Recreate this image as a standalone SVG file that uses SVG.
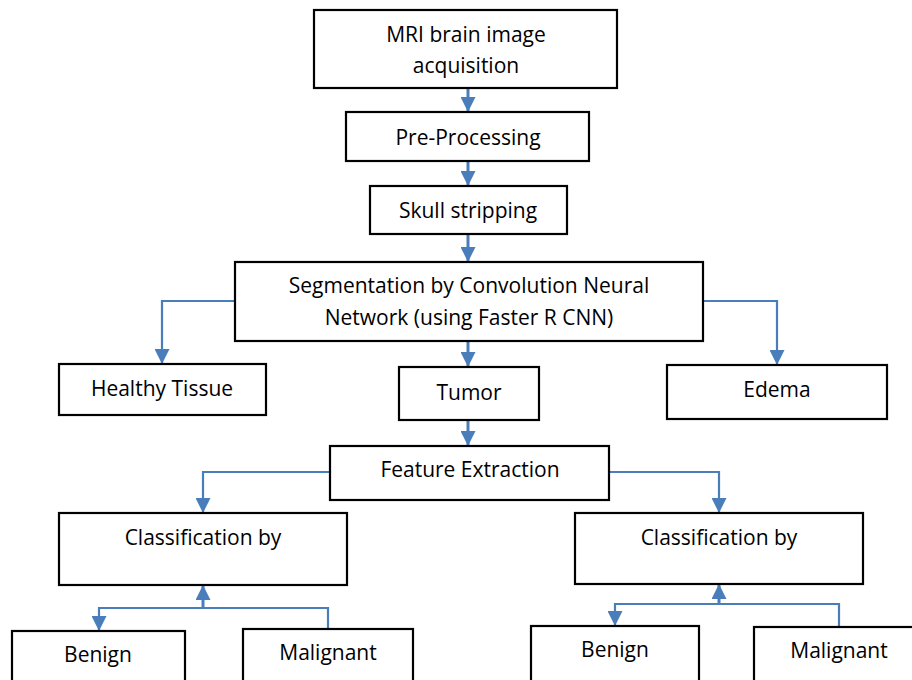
<svg xmlns="http://www.w3.org/2000/svg" width="912" height="680" viewBox="0 0 912 680">
<defs>
<style>
.box{fill:#fff;stroke:#000;stroke-width:2.2}
.t{font-family:"Open Sans","Liberation Sans",sans-serif;font-size:21px;fill:#000;text-anchor:middle}
.c{fill:none;stroke:#4A7EBB;stroke-width:2.2;marker-end:url(#ah)}
.cn{fill:none;stroke:#4A7EBB;stroke-width:2.2}
.s{fill:none;stroke:#4A7EBB;stroke-width:3;marker-end:url(#ah)}
</style>
<marker id="ah" markerUnits="userSpaceOnUse" viewBox="0 0 14 14" refX="14" refY="7" markerWidth="15" markerHeight="15" orient="auto">
<path d="M0,0 L14,7 L0,14 z" fill="#4A7EBB"/>
</marker>
</defs>
<rect width="912" height="680" fill="#fff"/>
<g id="connectors">
<path class="s" d="M468,88 V112"/>
<path class="s" d="M468,161 V186"/>
<path class="s" d="M468,234 V262"/>
<path class="c" d="M235,301 H162 V364"/>
<path class="s" d="M468,341 V367"/>
<path class="c" d="M703,301 H777 V365"/>
<path class="s" d="M468,420 V446"/>
<path class="c" d="M330,472 H203 V513"/>
<path class="c" d="M609,472 H719 V513"/>
<path class="s" d="M203,608 V585"/>
<path class="c" d="M328,629 V608 H99 V631"/>
<path class="s" d="M719,604 V584"/>
<path class="c" d="M839,627 V604 H615 V626"/>
</g>
<g id="mri"><rect class="box" x="314" y="10" width="303" height="78"/><text class="t" x="466" y="42">MRI brain image</text><text class="t" x="466" y="73">acquisition</text></g>
<g id="pre"><rect class="box" x="346" y="112" width="243" height="49"/><text class="t" x="468" y="145">Pre-Processing</text></g>
<g id="skull"><rect class="box" x="370" y="186" width="197" height="48"/><text class="t" x="468" y="218">Skull stripping</text></g>
<g id="seg"><rect class="box" x="235" y="262" width="468" height="79"/><text class="t" x="469" y="293">Segmentation by Convolution Neural</text><text class="t" x="469" y="325">Network (using Faster R CNN)</text></g>
<g id="healthy"><rect class="box" x="59" y="364" width="207" height="51"/><text class="t" x="162" y="396">Healthy Tissue</text></g>
<g id="tumor"><rect class="box" x="399" y="367" width="140" height="53"/><text class="t" x="469" y="400">Tumor</text></g>
<g id="edema"><rect class="box" x="667" y="365" width="220" height="54"/><text class="t" x="777" y="397">Edema</text></g>
<g id="feature"><rect class="box" x="330" y="446" width="279" height="54"/><text class="t" x="470" y="477">Feature Extraction</text></g>
<g id="classL"><rect class="box" x="59" y="513" width="288" height="72"/><text class="t" x="203" y="545">Classification by</text></g>
<g id="classR"><rect class="box" x="575" y="513" width="288" height="71"/><text class="t" x="719" y="545">Classification by</text></g>
<g id="benignL"><rect class="box" x="12" y="631" width="173" height="60"/><text class="t" x="98" y="662">Benign</text></g>
<g id="malL"><rect class="box" x="243" y="629" width="170" height="60"/><text class="t" x="328" y="660">Malignant</text></g>
<g id="benignR"><rect class="box" x="531" y="626" width="168" height="60"/><text class="t" x="615" y="657">Benign</text></g>
<g id="malR"><rect class="box" x="754" y="627" width="170" height="60"/><text class="t" x="839" y="658">Malignant</text></g>
</svg>
